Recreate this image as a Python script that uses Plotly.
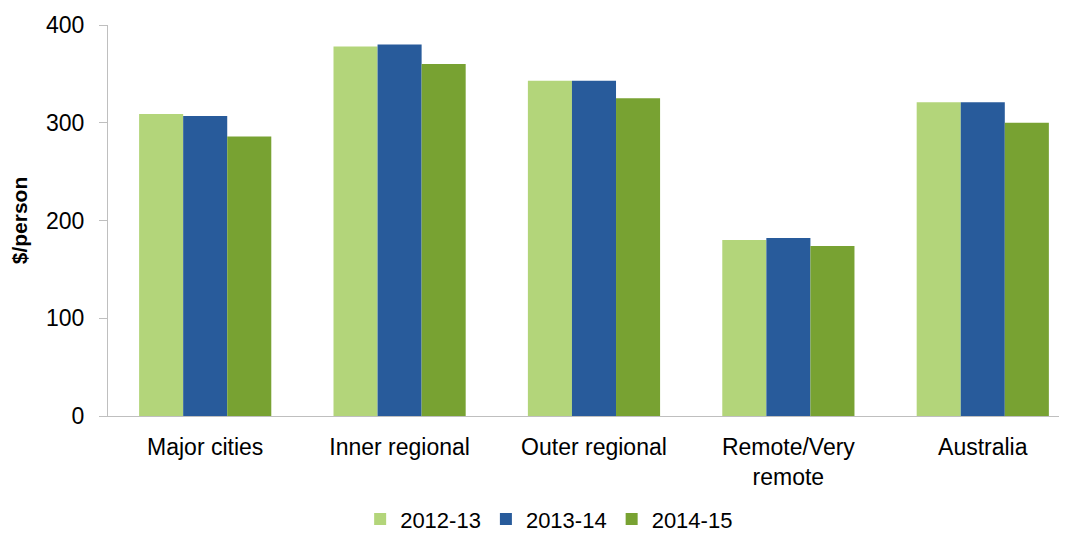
import plotly.graph_objects as go

# Expenditure per person by remoteness area
regions = ["Major cities", "Inner regional", "Outer regional", "Remote/Very<br>remote", "Australia"]
years = ["2012-13", "2013-14", "2014-15"]
v_2012 = [309, 378, 343, 180, 321]
v_2013 = [307, 380, 343, 182, 321]
v_2014 = [286, 360, 325, 174, 300]
colors = ["#b3d57a", "#285b9b", "#78a232"]

fig = go.Figure()
for name, vals, col in zip(years, [v_2012, v_2013, v_2014], colors):
    fig.add_trace(go.Bar(x=regions, y=vals, name=name, marker_color=col,
                         marker_line_width=0))

# page body has an 8px margin, so the figure is a bit smaller than the window
fig.update_layout(
    width=1059, height=527,
    margin=dict(l=100, r=2, t=17, b=119),
    paper_bgcolor="white", plot_bgcolor="white",
    barmode="group", bargap=0.32, bargroupgap=0,
    font=dict(family="Liberation Sans, Arial", size=22, color="black"),
    legend=dict(orientation="h", xref="container", x=0.511, xanchor="center",
                yref="container", y=0.03, yanchor="middle",
                font=dict(size=22), itemwidth=30, traceorder="normal"),
    showlegend=True,
)
fig.update_yaxes(range=[0, 400], dtick=100, showgrid=False, showline=True,
                 linecolor="#bfbfbf", linewidth=1, ticks="outside", ticklen=8,
                 tickcolor="#bfbfbf", zeroline=False, automargin=False,
                 tickfont=dict(size=23), ticklabelstandoff=10,
                 title=dict(text="<b>$/person</b>", font=dict(size=21), standoff=28))
# the original plot area runs a little past the right edge of the picture
fig.update_xaxes(showline=True, linecolor="#bfbfbf", linewidth=1, ticks="",
                 automargin=False, tickfont=dict(size=23), ticklabelstandoff=10,
                 range=[-0.5, 4.423])

fig.write_html("out.html")
